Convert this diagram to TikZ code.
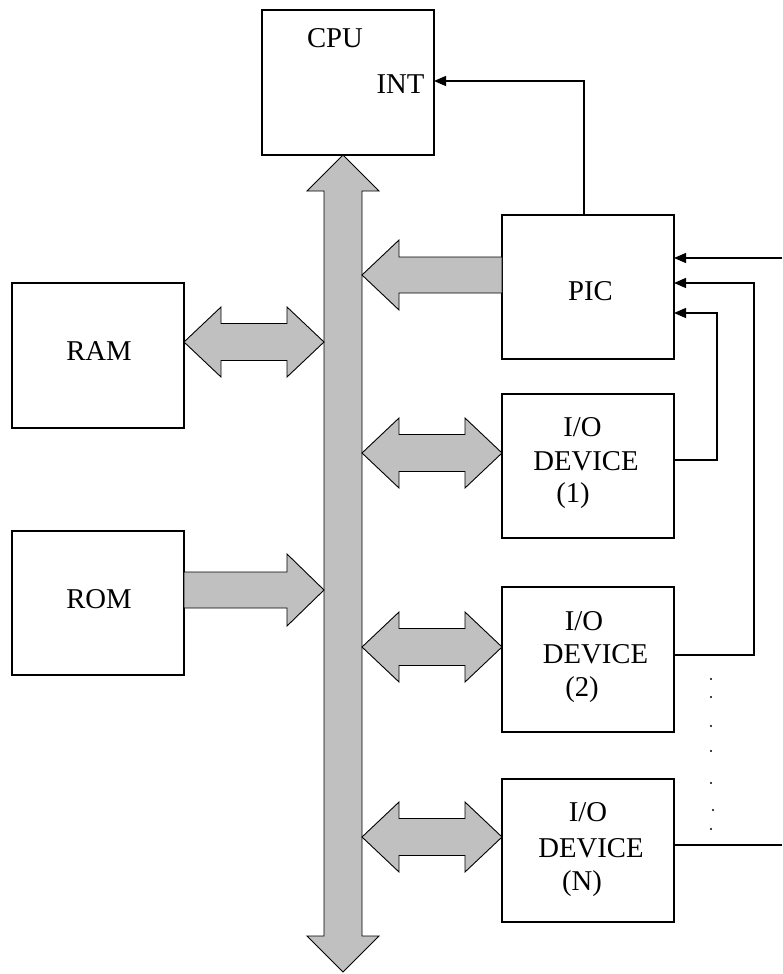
\documentclass[tikz,border=0pt]{standalone}
\usepackage{fontspec}
\setmainfont{Liberation Serif}
\usetikzlibrary{arrows.meta,calc}
\definecolor{fatgray}{HTML}{C0C0C0}
\tikzset{
  box/.style={draw, line width=1.3pt, minimum width=172pt, minimum height=145pt, inner sep=0pt, outer sep=0pt},
  lbl/.style={anchor=base, inner sep=0pt, font=\fontsize{28.7}{30}\selectfont},
  fat/.style={draw=black, line width=0.9pt, fill=fatgray, line join=miter},
  wire/.style={line width=1.2pt, -{Triangle[length=12pt,width=10pt]}},
  plainwire/.style={line width=1.2pt},
}
\newcommand\fatdbl[2]{\draw[fat] let \p1=(#1), \p2=(#2) in
  (\x1,\y1) -- (\x1+37pt,\y1+35pt) -- (\x1+37pt,\y1+18.5pt) -- (\x2-37pt,\y1+18.5pt) -- (\x2-37pt,\y1+35pt)
  -- (\x2,\y1) -- (\x2-37pt,\y1-35pt) -- (\x2-37pt,\y1-18.5pt) -- (\x1+37pt,\y1-18.5pt) -- (\x1+37pt,\y1-35pt) -- cycle;}
\newcommand\fatR[2]{\draw[fat] let \p1=(#1), \p2=(#2) in
  (\x1,\y1+18pt) -- (\x2-37pt,\y1+18pt) -- (\x2-37pt,\y1+36pt) -- (\x2,\y1)
  -- (\x2-37pt,\y1-36pt) -- (\x2-37pt,\y1-18pt) -- (\x1,\y1-18pt) -- cycle;}
\newcommand\fatL[2]{\draw[fat] let \p1=(#1), \p2=(#2) in
  (\x1,\y1+18pt) -- (\x2+37pt,\y1+18pt) -- (\x2+37pt,\y1+35pt) -- (\x2,\y1)
  -- (\x2+37pt,\y1-35pt) -- (\x2+37pt,\y1-18pt) -- (\x1,\y1-18pt) -- cycle;}
\begin{document}
\begin{tikzpicture}[x=1pt,y=-1pt]
\useasboundingbox (0,0) rectangle (782,974);

% boxes
\node[box] (cpu) at (348,82.5) {};
\node[box] (ram) at (98,355.5) {};
\node[box, minimum height=144pt] (rom) at (98,603) {};
\node[box, minimum height=144pt] (pic) at (588,287) {};
\node[box, minimum height=144pt] (io1) at (588,466) {};
\node[box] (io2) at (588,659.5) {};
\node[box, minimum height=143pt] (ioN) at (588,850.5) {};

% bus (invisible node for anchors)
\node[minimum width=38pt, minimum height=817pt, inner sep=0pt, outer sep=0pt] (bus) at (343,563.5) {};

% labels
\node[lbl] (cpuT) at (335,48) {CPU};
\node[lbl] (intT) at (400.5,93) {INT};
\node[lbl] (picT) at (590.5,300) {PIC};
\node[lbl] (ramT) at (99,360) {RAM};
\node[lbl] (romT) at (99,608) {ROM};
\node[lbl] (io1a) at (582.5,436) {I/O};
\node[lbl] (io1b) at (586,470) {DEVICE};
\node[lbl] (io1c) at (573,502) {(1)};
\node[lbl] (io2a) at (584,630) {I/O};
\node[lbl] (io2b) at (595.5,663) {DEVICE};
\node[lbl] (io2c) at (582,696) {(2)};
\node[lbl] (ioNa) at (588,821) {I/O};
\node[lbl] (ioNb) at (591,857) {DEVICE};
\node[lbl] (ioNc) at (582,890) {(N)};

% system bus double arrow
\draw[fat] let \p1=(bus.north), \p2=(bus.south) in
  (\x1,\y1) -- (\x1+36pt,\y1-36pt) -- (\x1+19pt,\y1-36pt) -- (\x1+19pt,\y2+36pt) -- (\x1+36pt,\y2+36pt)
  -- (\x2,\y2) -- (\x1-36pt,\y2+36pt) -- (\x1-19pt,\y2+36pt) -- (\x1-19pt,\y1-36pt) -- (\x1-36pt,\y1-36pt) -- cycle;

% fat arrows
\fatdbl{ram.east |- 0,342}{bus.west |- 0,342}
\fatR{rom.east |- 0,590}{bus.west |- 0,590}
\fatL{pic.west |- 0,275}{bus.east |- 0,275}
\fatdbl{bus.east |- 0,453}{io1.west |- 0,453}
\fatdbl{bus.east |- 0,647}{io2.west |- 0,647}
\fatdbl{bus.east |- 0,837}{ioN.west |- 0,837}

% interrupt wires
\draw[wire] (pic.north -| 584,0) |- (cpu.east |- 0,81);
\coordinate (eTop) at (782,258);
\draw[wire] (eTop) -- (pic.east |- eTop);
\draw[wire] (io2.east |- 0,655) -| (754,283) -- (pic.east |- 0,283);
\draw[wire] (io1.east |- 0,460) -| (717,313) -- (pic.east |- 0,313);
\coordinate (eBot) at (782,845);
\draw[plainwire] (ioN.east |- eBot) -- (eBot);

% dots
\foreach \yy/\xx in {679/711, 697/711, 726/711, 751/711, 783/711, 810/713, 829/711}
  \fill (\xx,\yy) circle (1.1pt);
\end{tikzpicture}
\end{document}
